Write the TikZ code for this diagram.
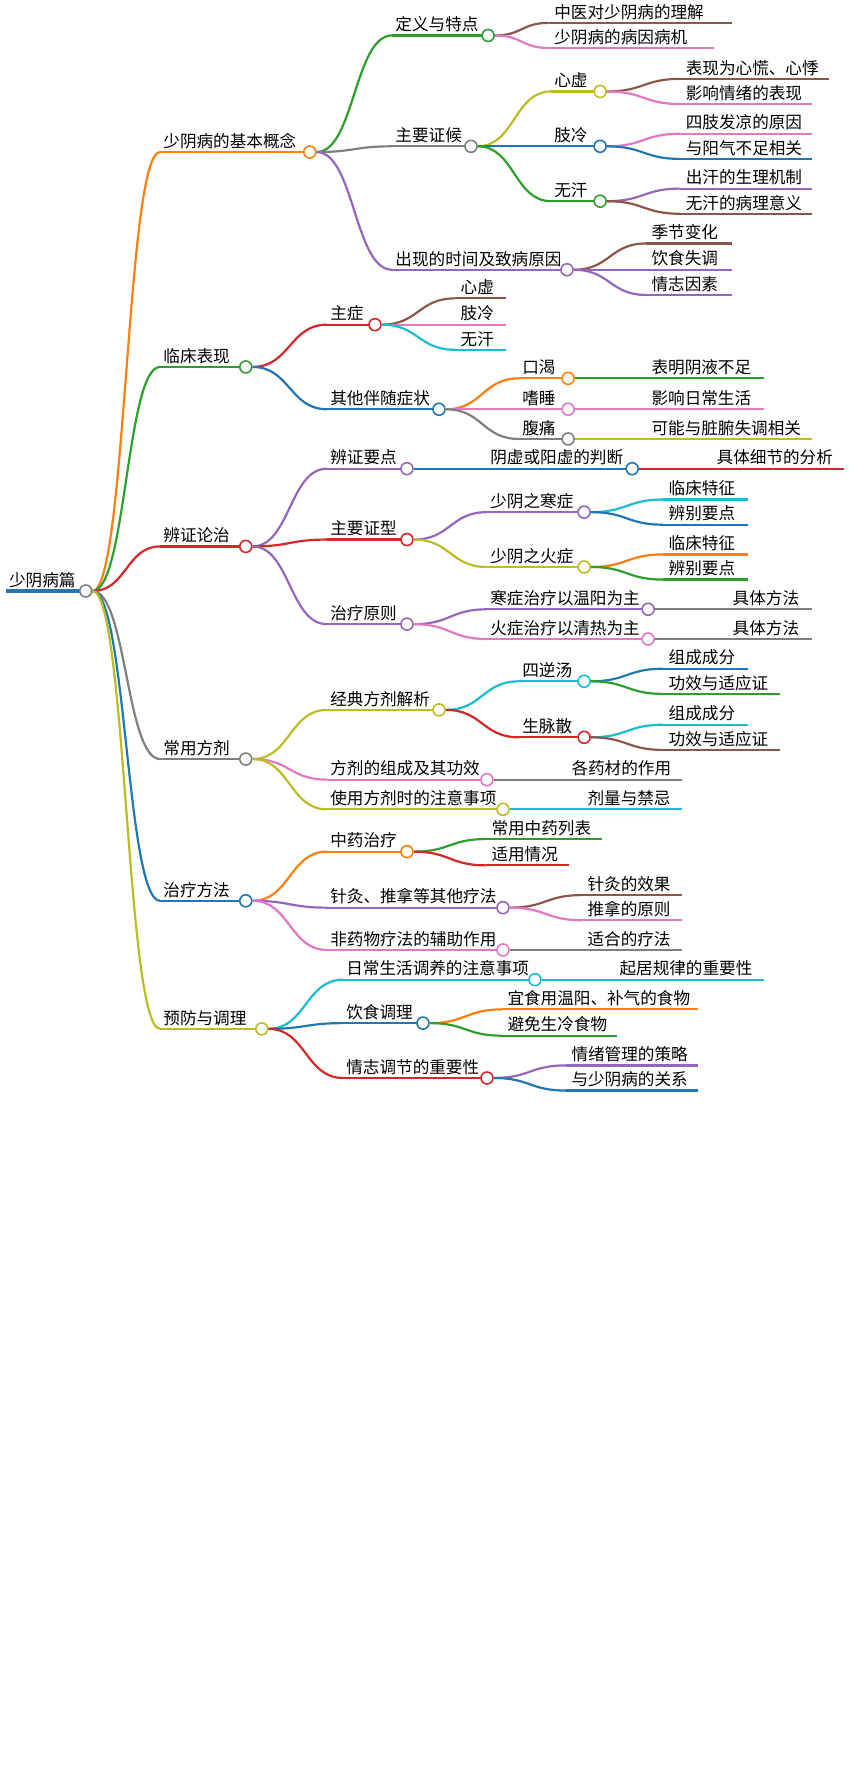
\documentclass[tikz,border=0pt]{standalone}
\usepackage{fontspec}
\setmainfont{Noto Sans CJK SC}
\usetikzlibrary{calc}
\definecolor{corange}{HTML}{FF7F0E}
\definecolor{cgreen}{HTML}{2CA02C}
\definecolor{cred}{HTML}{D62728}
\definecolor{cgray}{HTML}{7F7F7F}
\definecolor{cblue}{HTML}{1F77B4}
\definecolor{colive}{HTML}{BCBD22}
\definecolor{cpurple}{HTML}{9467BD}
\definecolor{cbrown}{HTML}{8C564B}
\definecolor{cpink}{HTML}{E377C2}
\definecolor{ccyan}{HTML}{17BECF}
\tikzset{
  link/.style={line width=1.1pt},
  lbl/.style={font=\fontsize{8.3}{9}\selectfont,inner sep=1.5pt,anchor=south west},
  dotn/.style={circle,fill=white,line width=0.8pt,minimum size=6pt,inner sep=0pt}
}
% curved link from a parent to the start of a child line
\newcommand{\curve}[3]{%
  \draw[link,#3] let \p1=(#1), \p2=(#2) in
    (\p1) .. controls ({(\x1+\x2)/2},\y1) and ({(\x1+\x2)/2},\y2) .. (\p2);
}
% inner node: name, parent, colour, start x, y, circle x, text
\newcommand{\inode}[7]{%
  \coordinate (#1s) at (#4,#5);
  \curve{#2}{#1s}{#3}
  \draw[link,#3] (#1s) -- (#6,#5);
  \node[lbl] at (#1s) {#7};
  \node[dotn,draw=#3] (#1) at (#6,#5) {};
}
% leaf: name, parent, colour, start x, y, end x, text
\newcommand{\leaf}[7]{%
  \coordinate (#1s) at (#4,#5);
  \coordinate (#1) at (#6,#5);
  \curve{#2}{#1s}{#3}
  \draw[link,#3] (#1s) -- (#1);
  \node[lbl] at ($(#1s)+(2,0)$) {#7};
}
\begin{document}
\begin{tikzpicture}[x=0.5715pt,y=-0.5715pt]
\useasboundingbox (0,0) rectangle (742,1565);

\coordinate (roots) at (5,517);
\draw[cblue,line width=2pt] (roots) -- (75,517);
\node[lbl] at (roots) {少阴病篇};
\node[dotn,draw=cgray] (root) at (75,517) {};

% 少阴病的基本概念
\inode{a}{root.east}{corange}{140}{133}{271}{少阴病的基本概念}
\inode{a1}{a.east}{cgreen}{343}{31}{427}{定义与特点}
\leaf{a11}{a1.east}{cbrown}{480}{20}{640}{中医对少阴病的理解}
\leaf{a12}{a1.east}{cpink}{480}{42}{625}{少阴病的病因病机}
\inode{a2}{a.east}{cgray}{343}{128}{412}{主要证候}
\inode{a21}{a2.east}{colive}{482}{80}{525}{心虚}
\leaf{a211}{a21.east}{cbrown}{595}{69}{725}{表现为心慌、心悸}
\leaf{a212}{a21.east}{cpink}{595}{91}{710}{影响情绪的表现}
\inode{a22}{a2.east}{cblue}{482}{128}{525}{肢冷}
\leaf{a221}{a22.east}{cpink}{595}{117}{710}{四肢发凉的原因}
\leaf{a222}{a22.east}{cblue}{595}{139}{710}{与阳气不足相关}
\inode{a23}{a2.east}{cgreen}{482}{176}{525}{无汗}
\leaf{a231}{a23.east}{cpurple}{595}{165}{710}{出汗的生理机制}
\leaf{a232}{a23.east}{cbrown}{595}{187}{710}{无汗的病理意义}
\inode{a3}{a.east}{cpurple}{343}{236}{496}{出现的时间及致病原因}
\leaf{a31}{a3.east}{cbrown}{565}{213}{640}{季节变化}
\leaf{a32}{a3.east}{cpurple}{565}{236}{640}{饮食失调}
\leaf{a33}{a3.east}{cpurple}{565}{258}{640}{情志因素}

% 临床表现
\inode{b}{root.east}{cgreen}{140}{321}{215}{临床表现}
\inode{b1}{b.east}{cred}{286}{284}{328}{主症}
\leaf{b11}{b1.east}{cbrown}{398}{261}{443}{心虚}
\leaf{b12}{b1.east}{cpink}{398}{284}{443}{肢冷}
\leaf{b13}{b1.east}{ccyan}{398}{306}{443}{无汗}
\inode{b2}{b.east}{cblue}{286}{358}{384}{其他伴随症状}
\inode{b21}{b2.east}{corange}{454}{331}{497}{口渴}
\leaf{b211}{b21.east}{cgreen}{565}{331}{668}{表明阴液不足}
\inode{b22}{b2.east}{cpink}{454}{358}{497}{嗜睡}
\leaf{b221}{b22.east}{cpink}{565}{358}{668}{影响日常生活}
\inode{b23}{b2.east}{cgray}{454}{384}{497}{腹痛}
\leaf{b231}{b23.east}{colive}{565}{384}{710}{可能与脏腑失调相关}

% 辨证论治
\inode{c}{root.east}{cred}{140}{478}{215}{辨证论治}
\inode{c1}{c.east}{cpurple}{286}{410}{356}{辨证要点}
\inode{c11}{c1.east}{cblue}{426}{410}{553}{阴虚或阳虚的判断}
\leaf{c111}{c11.east}{cred}{622}{410}{738}{具体细节的分析}
\inode{c2}{c.east}{cred}{286}{472}{356}{主要证型}
\inode{c21}{c2.east}{cpurple}{426}{448}{511}{少阴之寒症}
\leaf{c211}{c21.east}{ccyan}{580}{437}{654}{临床特征}
\leaf{c212}{c21.east}{cblue}{580}{459}{654}{辨别要点}
\inode{c22}{c2.east}{colive}{426}{496}{511}{少阴之火症}
\leaf{c221}{c22.east}{corange}{580}{485}{654}{临床特征}
\leaf{c222}{c22.east}{cgreen}{580}{507}{654}{辨别要点}
\inode{c3}{c.east}{cpurple}{286}{546}{356}{治疗原则}
\inode{c31}{c3.east}{cpurple}{426}{533}{567}{寒症治疗以温阳为主}
\leaf{c311}{c31.east}{cgray}{636}{533}{710}{具体方法}
\inode{c32}{c3.east}{cpink}{426}{559}{567}{火症治疗以清热为主}
\leaf{c321}{c32.east}{cgray}{636}{559}{710}{具体方法}

% 常用方剂
\inode{d}{root.east}{cgray}{140}{664}{215}{常用方剂}
\inode{d1}{d.east}{colive}{286}{621}{384}{经典方剂解析}
\inode{d11}{d1.east}{ccyan}{454}{596}{511}{四逆汤}
\leaf{d111}{d11.east}{cblue}{580}{585}{654}{组成成分}
\leaf{d112}{d11.east}{cgreen}{580}{607}{682}{功效与适应证}
\inode{d12}{d1.east}{cred}{454}{645}{511}{生脉散}
\leaf{d121}{d12.east}{ccyan}{580}{634}{654}{组成成分}
\leaf{d122}{d12.east}{cbrown}{580}{656}{682}{功效与适应证}
\inode{d2}{d.east}{cpink}{286}{682}{426}{方剂的组成及其功效}
\leaf{d21}{d2.east}{cgray}{495}{682}{597}{各药材的作用}
\inode{d3}{d.east}{colive}{286}{708}{440}{使用方剂时的注意事项}
\leaf{d31}{d3.east}{ccyan}{509}{708}{597}{剂量与禁忌}

% 治疗方法
\inode{e}{root.east}{cblue}{140}{788}{215}{治疗方法}
\inode{e1}{e.east}{corange}{286}{745}{356}{中药治疗}
\leaf{e11}{e1.east}{cgreen}{425}{734}{527}{常用中药列表}
\leaf{e12}{e1.east}{cred}{425}{757}{498}{适用情况}
\inode{e2}{e.east}{cpurple}{286}{794}{440}{针灸、推拿等其他疗法}
\leaf{e21}{e2.east}{cbrown}{509}{783}{597}{针灸的效果}
\leaf{e22}{e2.east}{cpink}{509}{805}{597}{推拿的原则}
\inode{e3}{e.east}{cpink}{286}{831}{440}{非药物疗法的辅助作用}
\leaf{e31}{e3.east}{cgray}{509}{831}{597}{适合的疗法}

% 预防与调理
\inode{f}{root.east}{colive}{140}{900}{229}{预防与调理}
\inode{f1}{f.east}{ccyan}{300}{857}{468}{日常生活调养的注意事项}
\leaf{f11}{f1.east}{ccyan}{537}{857}{668}{起居规律的重要性}
\inode{f2}{f.east}{cblue}{300}{895}{370}{饮食调理}
\leaf{f21}{f2.east}{corange}{439}{883}{611}{宜食用温阳、补气的食物}
\leaf{f22}{f2.east}{cgreen}{439}{906}{540}{避免生冷食物}
\inode{f3}{f.east}{cred}{300}{943}{426}{情志调节的重要性}
\leaf{f31}{f3.east}{cpurple}{495}{932}{611}{情绪管理的策略}
\leaf{f32}{f3.east}{cblue}{495}{954}{611}{与少阴病的关系}
\end{tikzpicture}
\end{document}
